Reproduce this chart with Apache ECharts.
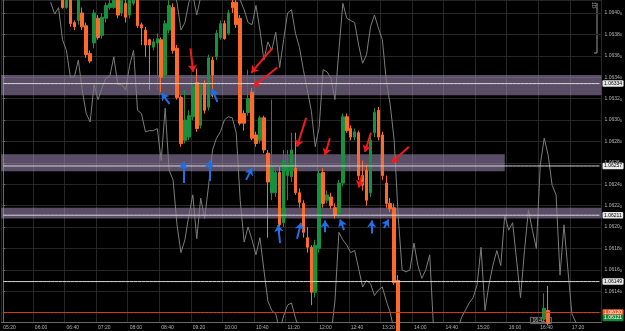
<!DOCTYPE html>
<html><head><meta charset="utf-8">
<script src="https://cdn.jsdelivr.net/npm/echarts@6/dist/echarts.min.js"></script>
<style>html,body{margin:0;padding:0;background:#000;overflow:hidden}#c{width:625px;height:331px}</style>
</head><body><div id="c"></div>
<script>
// ---- time slots (M5) ----
const firstSlot = '05:20';
const slotMinutes = 5;
const slotCount = 152;

// ---- candles: [slot index, open, close, low, high] ----
const candles = [
[15,1.06419,1.06405,1.06404,1.06426],[16,1.06405,1.06415,1.06404,1.06419],[17,1.06414,1.06390,1.06387,1.06417],
[18,1.06391,1.06387,1.06384,1.06393],[19,1.06393,1.06417,1.06389,1.06421],[20,1.06400,1.06387,1.06384,1.06405],
[21,1.06388,1.06361,1.06358,1.06391],[22,1.06362,1.06355,1.06353,1.06365],[23,1.06372,1.06400,1.06367,1.06403],
[24,1.06395,1.06377,1.06375,1.06398],[25,1.06379,1.06396,1.06376,1.06400],[26,1.06395,1.06407,1.06391,1.06410],
[27,1.06405,1.06409,1.06403,1.06412],[28,1.06405,1.06414,1.06404,1.06418],[29,1.06412,1.06398,1.06395,1.06416],
[30,1.06400,1.06412,1.06397,1.06417],[31,1.06409,1.06396,1.06391,1.06412],[32,1.06398,1.06415,1.06395,1.06419],
[33,1.06409,1.06417,1.06407,1.06421],[34,1.06415,1.06388,1.06386,1.06419],[35,1.06389,1.06386,1.06370,1.06391],
[36,1.06384,1.06370,1.06359,1.06387],[37,1.06375,1.06370,1.06328,1.06376],[38,1.06368,1.06373,1.06365,1.06376],
[39,1.06372,1.06376,1.06328,1.06381],[40,1.06375,1.06340,1.06326,1.06377],[41,1.06342,1.06390,1.06339,1.06393],
[42,1.06384,1.06407,1.06381,1.06412],[43,1.06405,1.06365,1.06362,1.06409],[44,1.06367,1.06321,1.06319,1.06370],
[45,1.06321,1.06278,1.06275,1.06323],[46,1.06281,1.06300,1.06278,1.06328],[47,1.06284,1.06304,1.06281,1.06309],
[48,1.06303,1.06331,1.06300,1.06334],[49,1.06335,1.06292,1.06289,1.06348],[50,1.06295,1.06333,1.06292,1.06335],
[51,1.06334,1.06309,1.06306,1.06337],[52,1.06312,1.06358,1.06309,1.06361],[53,1.06356,1.06342,1.06321,1.06359],
[54,1.06359,1.06381,1.06356,1.06384],[55,1.06377,1.06390,1.06375,1.06393],[56,1.06390,1.06376,1.06375,1.06393],
[57,1.06381,1.06400,1.06379,1.06403],[58,1.06410,1.06405,1.06400,1.06415],[59,1.06410,1.06389,1.06386,1.06412],
[60,1.06395,1.06297,1.06295,1.06398],[61,1.06306,1.06297,1.06290,1.06309],[62,1.06307,1.06320,1.06304,1.06347],
[63,1.06326,1.06283,1.06281,1.06330],[64,1.06286,1.06278,1.06275,1.06289],[65,1.06281,1.06302,1.06278,1.06304],
[66,1.06302,1.06272,1.06269,1.06304],[67,1.06269,1.06242,1.06190,1.06272],[68,1.06232,1.06256,1.06225,1.06319],
[69,1.06232,1.06251,1.06228,1.06258],[70,1.06251,1.06202,1.06195,1.06256],[71,1.06204,1.06262,1.06200,1.06272],
[72,1.06248,1.06258,1.06225,1.06272],[73,1.06247,1.06272,1.06242,1.06288],[74,1.06255,1.06232,1.06230,1.06288],
[75,1.06232,1.06223,1.06218,1.06236],[76,1.06222,1.06195,1.06190,1.06225],[77,1.06190,1.06181,1.06176,1.06200],
[78,1.06181,1.06139,1.06127,1.06183],[79,1.06139,1.06183,1.06134,1.06188],[80,1.06180,1.06250,1.06176,1.06253],
[81,1.06251,1.06222,1.06218,1.06255],[82,1.06225,1.06230,1.06222,1.06234],[83,1.06228,1.06220,1.06217,1.06232],
[84,1.06218,1.06211,1.06208,1.06222],[85,1.06213,1.06241,1.06209,1.06244],[86,1.06241,1.06303,1.06238,1.06306],
[87,1.06303,1.06290,1.06288,1.06306],[88,1.06292,1.06284,1.06281,1.06295],[89,1.06284,1.06289,1.06281,1.06292],
[90,1.06288,1.06248,1.06244,1.06290],[91,1.06248,1.06239,1.06234,1.06262],[92,1.06253,1.06225,1.06220,1.06258],
[93,1.06232,1.06281,1.06228,1.06286],[94,1.06288,1.06307,1.06284,1.06311],[95,1.06309,1.06284,1.06281,1.06312],
[96,1.06286,1.06248,1.06244,1.06289],[97,1.06241,1.06222,1.06218,1.06248],[98,1.06222,1.06217,1.06214,1.06227],
[99,1.06218,1.06148,1.06146,1.06222],[100,1.06150,1.06103,1.06099,1.06155],
[137,1.06114,1.06124,1.06113,1.06138],[138,1.06122,1.06110,1.06108,1.06145]
];

// ---- grey overlay line A: [slot index, value] ----
const lineA = [
[12,1.06410],[13,1.06399],[14,1.06405],[15,1.06375],[16,1.06365],[17,1.06340],[18,1.06340],[19,1.06356],
[20,1.06328],[21,1.06306],[22,1.06298],[23,1.06333],[24,1.06319],[25,1.06330],[26,1.06339],[27,1.06341],
[28,1.06359],[29,1.06333],[30,1.06333],[31,1.06328],[32,1.06351],[33,1.06365],[34,1.06309],[35,1.06306],
[36,1.06289],[37,1.06290],[38,1.06290],[39,1.06292],[40,1.06262],[41,1.06311],[42,1.06253],[43,1.06244],
[44,1.06202],[45,1.06176],[46,1.06188],[47,1.06211],[48,1.06230],[49,1.06189],[50,1.06227],[51,1.06208],
[52,1.06239],[53,1.06272],[54,1.06283],[55,1.06289],[56,1.06300],[57,1.06303],[58,1.06302],[59,1.06288],
[60,1.06225],[61,1.06186],[62,1.06200],[63,1.06188],[64,1.06174],[65,1.06190],[66,1.06160],[67,1.06131],
[68,1.06122],[69,1.06119],[70,1.06103],[71,1.06117],[72,1.06127],[73,1.06129],[74,1.06115],[75,1.06103],
[76,1.06099],[77,1.06099],[78,1.06099],[79,1.06099],[80,1.06099],[81,1.06099],[82,1.06099],[83,1.06099],
[84,1.06131],[85,1.06195],[86,1.06188],[87,1.06183],[88,1.06176],[89,1.06178],[90,1.06161],[91,1.06144],
[92,1.06150],[93,1.06147],[94,1.06136],[95,1.06141],[96,1.06144],[97,1.06131],[98,1.06120],[99,1.06103]
];

// ---- grey overlay line B: [slot index, value] ----
const lineB = [
[43,1.06421],[44,1.06410],[45,1.06384],[46,1.06391],[47,1.06410],[48,1.06417],[49,1.06398],[50,1.06415],
[51,1.06426],[52,1.06426],[53,1.06426],[54,1.06426],[55,1.06426],[56,1.06426],[57,1.06426],[58,1.06426],[59,1.06426],
[60,1.06412],[61,1.06403],[62,1.06391],[63,1.06389],[64,1.06407],[65,1.06384],[66,1.06356],[67,1.06373],
[68,1.06365],[69,1.06382],[70,1.06349],[71,1.06375],[72,1.06400],[73,1.06403],[74,1.06381],[75,1.06368],
[76,1.06347],[77,1.06328],[78,1.06309],[79,1.06275],[80,1.06293],[81,1.06347],[82,1.06345],[83,1.06339],
[84,1.06319],[85,1.06365],[86,1.06409],[87,1.06395],[88,1.06393],[89,1.06391],[90,1.06370],[91,1.06353],
[92,1.06361],[93,1.06387],[94,1.06398],[95,1.06386],[96,1.06375],[97,1.06337],[98,1.06314],[99,1.06281],
[100,1.06211],[101,1.06160],[102,1.06158],[103,1.06160],[104,1.06185],[105,1.06164],[106,1.06152],[107,1.06160],
[108,1.06174],[109,1.06103],[110,1.06094],[111,1.06094],[112,1.06094],[113,1.06094],[114,1.06094],[115,1.06103],
[116,1.06115],[117,1.06122],[118,1.06129],[119,1.06134],[120,1.06146],[121,1.06181],[122,1.06122],[123,1.06146],
[124,1.06164],[125,1.06178],[126,1.06164],[127,1.06211],[128,1.06197],[129,1.06204],[130,1.06169],[131,1.06134],
[132,1.06178],[133,1.06216],[134,1.06197],[135,1.06180],[136,1.06258],[137,1.06283],[138,1.06267],[139,1.06239],
[140,1.06230],[141,1.06155],[142,1.06202],[143,1.06160],[144,1.06119],[145,1.06111],[146,1.06103]
];

// ---- zones (low, high, last slot or null = full width) and levels ----
const zones = [[1.06323,1.06342,null],[1.06252,1.06268,'15:55'],[1.06208,1.06218,null]];
const levels = [1.06334,1.06257,1.06211,1.06149];
const bidPrice = 1.06120;
const askLabelPrice = 1.06115;
const askPrice = '1.06121';
const currentTimeLabel = '16:42';

// ---- arrows: [tail slot, tail value, tip slot, tip value] ----
const blueArrows = [
[42.1,1.06315,40.1,1.06325],[45.6,1.06241,45.6,1.06261],[52.2,1.06243,52.2,1.06262],[54.2,1.06317,52.9,1.06329],
[61.5,1.06244,63.0,1.06255],[70.1,1.06185,69.6,1.06202],[74.4,1.06189,75.4,1.06204],[81.5,1.06195,81.5,1.06206],
[86.3,1.06197,85.3,1.06207],[93.3,1.06194,93.3,1.06206],[96.4,1.06199,97.6,1.06207]
];
const redArrows = [
[47.4,1.06367,48.1,1.06345],[68.1,1.06367,62.8,1.06344],[69.4,1.06349,63.3,1.06331],[76.7,1.06302,74.4,1.06275],
[82.7,1.06283,81.5,1.06267],[93.1,1.06288,91.6,1.06270],[102.7,1.06275,98.4,1.06260],[90.8,1.06248,90.0,1.06237]
];

// ---------------- build ----------------
const cats = [];
{
  const [h0, m0] = firstSlot.split(':').map(Number);
  for (let i = 0; i < slotCount; i++) {
    const t = h0 * 60 + m0 + i * slotMinutes;
    cats.push(String(Math.floor(t / 60)).padStart(2, '0') + ':' + String(t % 60).padStart(2, '0'));
  }
}
const candleData = cats.map(() => '-');
candles.forEach(c => { candleData[c[0]] = [c[1], c[2], c[3], c[4]]; });
function sparse(arr) { const d = cats.map(() => null); arr.forEach(p => { d[p[0]] = p[1]; }); return d; }

const FONT = 'Liberation Sans';
const chart = echarts.init(document.getElementById('c'));
const arrowSeries = (arr, color) => ({
  type: 'lines', coordinateSystem: 'cartesian2d', xAxisIndex: 1, yAxisIndex: 0, z: 20, silent: true,
  symbol: ['none', 'arrow'], symbolSize: [6, 7],
  lineStyle: { color: color, width: 2, opacity: 1 },
  data: arr.map(a => ({ coords: [[a[0], a[1]], [a[2], a[3]]] }))
});
// horizontal level drawn as a flat line series across every slot, with its price tag at the right end
const levelSeries = (value, text, lineColor, tagBg, tagFg, lineOpacity, z) => ({
  type: 'line', data: cats.map(() => value), symbol: 'none', silent: true, z: z,
  lineStyle: { color: lineColor, width: 1, opacity: lineOpacity },
  endLabel: { show: true, distance: 3, formatter: text, color: tagFg, backgroundColor: tagBg, fontSize: 5, fontFamily: FONT, padding: [1, 1.5, 0.5, 1.5], borderRadius: 1 }
});

chart.setOption({
  backgroundColor: '#000',
  animation: false,
  grid: { left: 1.3, right: 21.7, top: 0, bottom: 8.3 },
  xAxis: [{
    type: 'category', data: cats, boundaryGap: true,
    axisLine: { lineStyle: { color: '#6a6a6a', width: 1 } },
    axisTick: { interval: 7, alignWithLabel: true, length: 2, lineStyle: { color: '#8a8a8a' } },
    axisLabel: { interval: 7, align: 'left', fontSize: 5, color: '#b0b0b0', margin: 2, fontFamily: FONT },
    splitLine: { show: true, interval: 7, lineStyle: { color: '#262626', width: 1 } }
  }, {
    type: 'value', min: -0.5, max: slotCount - 0.5, show: false
  }],
  yAxis: {
    type: 'value', position: 'right', min: 1.0611056, max: 1.064121, splitNumber: 15, scale: true,
    axisLine: { show: true, lineStyle: { color: '#6a6a6a' } },
    axisTick: { show: true, length: 2, lineStyle: { color: '#6a6a6a' } },
    splitLine: { lineStyle: { color: '#262626', width: 1 } },
    axisLabel: {
      showMinLabel: false, showMaxLabel: false, margin: 3, color: '#b4b4b4', fontFamily: FONT, fontSize: 5,
      formatter: v => { const s = v.toFixed(5); return '{a|' + s.slice(0, 6) + '}{s|' + s.slice(6) + '}'; },
      rich: { a: { fontSize: 5, color: '#b4b4b4', fontFamily: FONT }, s: { fontSize: 4, color: '#b4b4b4', fontFamily: FONT, padding: [2, 0, 0, 0] } }
    }
  },
  graphic: [
    { type: 'text', left: 591, top: 2, rotation: -Math.PI / 2, style: { text: '1D', fill: '#9a9a9a', fontSize: 5, fontFamily: FONT } },
    { type: 'polyline', shape: { points: [[597, 3], [597, 53], [594, 53]] }, style: { stroke: '#9a9a9a', lineWidth: 1, fill: null } },
    { type: 'group', left: 530, top: 317, z: 30, children: [
      { type: 'rect', shape: { x: 0, y: 0, width: 21, height: 6 }, style: { fill: '#111', stroke: '#8a8a8a', lineWidth: 0.8 } },
      { type: 'text', x: 2, y: 0.8, style: { text: currentTimeLabel, fill: '#c8c8c8', fontSize: 5, fontFamily: FONT } }
    ] }
  ],
  series: [
    { type: 'line', data: sparse(lineA), symbol: 'none', connectNulls: false, lineStyle: { color: '#7c7c7c', width: 1 }, z: 1, silent: true },
    { type: 'line', data: sparse(lineB), symbol: 'none', connectNulls: false, lineStyle: { color: '#7c7c7c', width: 1 }, z: 1, silent: true },
    {
      type: 'candlestick', data: candleData, barWidth: 3, z: 2,
      itemStyle: { color: '#17903f', color0: '#ff6a2a', borderColor: '#17903f', borderColor0: '#ff6a2a', borderWidth: 1 }
    },
    {
      type: 'line', data: cats.map(() => null), symbol: 'none', z: 5, silent: true,
      markArea: {
        silent: true,
        itemStyle: { color: 'rgba(172,150,196,0.52)' },
        data: zones.map(z => z[2] ? [{ yAxis: z[1] }, { xAxis: z[2], yAxis: z[0] }] : [{ yAxis: z[1] }, { yAxis: z[0] }])
      }
    }
  ].concat(
    levels.map(v => levelSeries(v, v.toFixed(5), '#d6d6d6', '#e8e8e8', '#000', 1, 6)),
    [levelSeries(bidPrice, bidPrice.toFixed(5), '#d8451a', '#e8602a', '#fff', 1, 6),
     levelSeries(askLabelPrice, askPrice, '#000', '#168a3a', '#fff', 0, 6),
     arrowSeries(blueArrows, '#1f6fe8'),
     arrowSeries(redArrows, '#ee1c1c')]
  )
});
</script></body></html>
